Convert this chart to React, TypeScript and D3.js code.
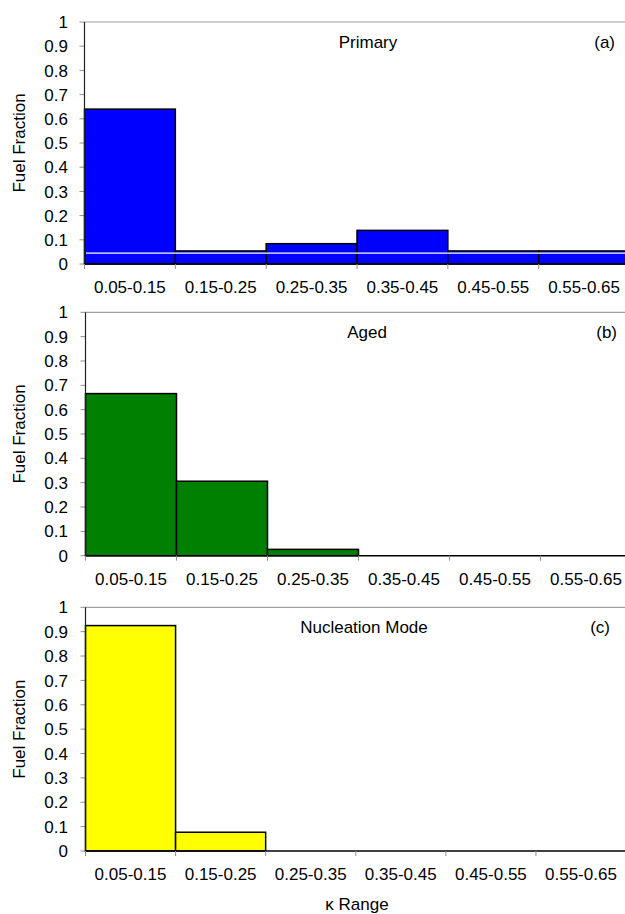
import React from "react";
import * as d3 from "d3";

const categories = ["0.05-0.15", "0.15-0.25", "0.25-0.35", "0.35-0.45", "0.45-0.55", "0.55-0.65"];
const primary = [0.64, 0.054, 0.084, 0.139, 0.054, 0.054];
const aged = [0.666, 0.306, 0.026, 0, 0, 0];
const nucleation = [0.925, 0.077, 0, 0, 0, 0];
const yTicks = [0, 0.1, 0.2, 0.3, 0.4, 0.5, 0.6, 0.7, 0.8, 0.9, 1];
const panelTitles = ["Primary", "Aged", "Nucleation Mode"];
const panelLetters = ["(a)", "(b)", "(c)"];
const primaryWhiteLine = 0.045;

const W = 625;
const H = 914;
const FONT = "'Liberation Sans', Arial, sans-serif";

const panels = [
  { values: primary, color: "#0000FF", y0: 264, y1: 22, left: 84.5, right: 629.5, whiteLine: primaryWhiteLine, titleX: 368, letterX: 615 },
  { values: aged, color: "#008000", y0: 555.7, y1: 312.3, left: 85.5, right: 631.5, whiteLine: null, titleX: 367, letterX: 617 },
  { values: nucleation, color: "#FFFF00", y0: 851, y1: 607.3, left: 85.5, right: 626, whiteLine: null, titleX: 364, letterX: 610 },
];

function Panel({ p, i }: { p: any; i: number }) {
  const x = d3.scaleBand<string>().domain(categories).range([p.left, p.right]).paddingInner(0).paddingOuter(0);
  const y = d3.scaleLinear().domain([0, 1]).range([p.y0, p.y1]);
  const bw = x.bandwidth();
  return (
    <g>
      <line x1={p.left} x2={W} y1={y(1)} y2={y(1)} stroke="#a0a0a0" strokeWidth={1.2} />
      {yTicks.map((t) => (
        <g key={t}>
          <line x1={p.left - 5} x2={p.left} y1={y(t)} y2={y(t)} stroke="#909090" strokeWidth={1} />
          <text x={68} y={y(t)} dy="0.36em" textAnchor="end" fontSize={17} fontFamily={FONT} fill="#000">
            {d3.format("~g")(t)}
          </text>
        </g>
      ))}
      {p.values.map((v: number, k: number) =>
        v > 0 ? (
          <rect key={k} x={x(categories[k])} y={y(v)} width={bw} height={y(0) - y(v)} fill={p.color} stroke="#000" strokeWidth={1.5} />
        ) : null
      )}
      {p.whiteLine != null ? (
        <line x1={p.left + 1.5} x2={W} y1={y(p.whiteLine)} y2={y(p.whiteLine)} stroke="#fff" strokeWidth={1.2} />
      ) : null}
      <line x1={p.left} x2={p.left} y1={y(1)} y2={y(0)} stroke="#202020" strokeWidth={1.2} />
      <line x1={p.left} x2={W} y1={y(0)} y2={y(0)} stroke="#000" strokeWidth={1.5} />
      {categories.map((c) => (
        <line key={c} x1={x(c)} x2={x(c)} y1={y(0)} y2={y(0) + 5} stroke="#909090" strokeWidth={1} />
      ))}
      {categories.map((c) => (
        <text key={c} x={(x(c) as number) + bw / 2} y={y(0) + 29} textAnchor="middle" fontSize={17} fontFamily={FONT} fill="#000">
          {c}
        </text>
      ))}
      <text
        transform={`translate(25,${(y(0) + y(1)) / 2}) rotate(-90)`}
        textAnchor="middle"
        fontSize={17}
        fontFamily={FONT}
        fill="#000"
      >
        Fuel Fraction
      </text>
      <text x={p.titleX} y={y(1) + 26} textAnchor="middle" fontSize={17} fontFamily={FONT} fill="#000">
        {panelTitles[i]}
      </text>
      <text x={p.letterX} y={y(1) + 26} textAnchor="end" fontSize={17} fontFamily={FONT} fill="#000">
        {panelLetters[i]}
      </text>
    </g>
  );
}

export default function App() {
  return (
    <svg width={W} height={H} style={{ position: "absolute", left: 0, top: 0, display: "block", background: "#fff" }}>
      <rect x={0} y={0} width={W} height={H} fill="#fff" />
      {panels.map((p, i) => (
        <Panel key={i} p={p} i={i} />
      ))}
      <text x={357} y={910} textAnchor="middle" fontSize={17} fontFamily={FONT} fill="#000">
        κ Range
      </text>
    </svg>
  );
}
